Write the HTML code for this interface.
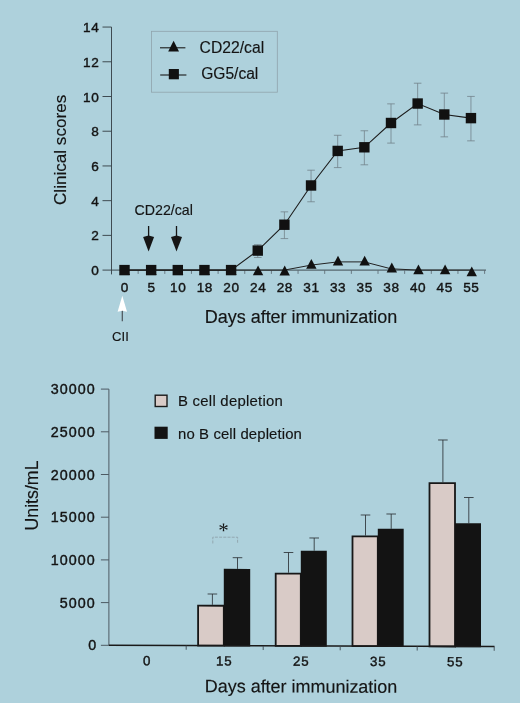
<!DOCTYPE html>
<html><head><meta charset="utf-8"><title>Figure</title>
<style>html,body{margin:0;padding:0;background:#aed1dc;}body{width:520px;height:703px;overflow:hidden;}svg{display:block;will-change:transform;filter:blur(0.3px);}text{font-family:"Liberation Sans",Arial,sans-serif;fill:#141414;stroke:#141414;stroke-width:0.15px;}text.tk{stroke-width:0.4px;}</style>
</head><body>
<svg width="520" height="703" viewBox="0 0 520 703">
<rect x="0" y="0" width="520" height="703" fill="#aed1dc"/>
<g stroke="#39434a" stroke-width="0.95" fill="none">
<line x1="111.50" y1="27.06" x2="111.50" y2="274.40"/>
<line x1="102.50" y1="270.10" x2="486.00" y2="270.10"/>
<line x1="102.50" y1="235.38" x2="111.50" y2="235.38"/>
<line x1="102.50" y1="200.66" x2="111.50" y2="200.66"/>
<line x1="102.50" y1="165.94" x2="111.50" y2="165.94"/>
<line x1="102.50" y1="131.22" x2="111.50" y2="131.22"/>
<line x1="102.50" y1="96.50" x2="111.50" y2="96.50"/>
<line x1="102.50" y1="61.78" x2="111.50" y2="61.78"/>
<line x1="102.50" y1="27.06" x2="111.50" y2="27.06"/>
<line x1="138.15" y1="270.10" x2="138.15" y2="273.90" stroke="#5d6a72" stroke-width="0.85"/>
<line x1="164.80" y1="270.10" x2="164.80" y2="273.90" stroke="#5d6a72" stroke-width="0.85"/>
<line x1="191.45" y1="270.10" x2="191.45" y2="273.90" stroke="#5d6a72" stroke-width="0.85"/>
<line x1="218.10" y1="270.10" x2="218.10" y2="273.90" stroke="#5d6a72" stroke-width="0.85"/>
<line x1="244.75" y1="270.10" x2="244.75" y2="273.90" stroke="#5d6a72" stroke-width="0.85"/>
<line x1="271.40" y1="270.10" x2="271.40" y2="273.90" stroke="#5d6a72" stroke-width="0.85"/>
<line x1="298.05" y1="270.10" x2="298.05" y2="273.90" stroke="#5d6a72" stroke-width="0.85"/>
<line x1="324.70" y1="270.10" x2="324.70" y2="273.90" stroke="#5d6a72" stroke-width="0.85"/>
<line x1="351.35" y1="270.10" x2="351.35" y2="273.90" stroke="#5d6a72" stroke-width="0.85"/>
<line x1="378.00" y1="270.10" x2="378.00" y2="273.90" stroke="#5d6a72" stroke-width="0.85"/>
<line x1="404.65" y1="270.10" x2="404.65" y2="273.90" stroke="#5d6a72" stroke-width="0.85"/>
<line x1="431.30" y1="270.10" x2="431.30" y2="273.90" stroke="#5d6a72" stroke-width="0.85"/>
<line x1="457.95" y1="270.10" x2="457.95" y2="273.90" stroke="#5d6a72" stroke-width="0.85"/>
<line x1="484.60" y1="270.10" x2="484.60" y2="273.90" stroke="#5d6a72" stroke-width="0.85"/>
</g>
<text class="tk" x="99.4" y="275.10" font-size="13.6" text-anchor="end" letter-spacing="0.6">0</text>
<text class="tk" x="99.4" y="240.38" font-size="13.6" text-anchor="end" letter-spacing="0.6">2</text>
<text class="tk" x="99.4" y="205.66" font-size="13.6" text-anchor="end" letter-spacing="0.6">4</text>
<text class="tk" x="99.4" y="170.94" font-size="13.6" text-anchor="end" letter-spacing="0.6">6</text>
<text class="tk" x="99.4" y="136.22" font-size="13.6" text-anchor="end" letter-spacing="0.6">8</text>
<text class="tk" x="99.4" y="101.50" font-size="13.6" text-anchor="end" letter-spacing="0.6">10</text>
<text class="tk" x="99.4" y="66.78" font-size="13.6" text-anchor="end" letter-spacing="0.6">12</text>
<text class="tk" x="99.4" y="32.06" font-size="13.6" text-anchor="end" letter-spacing="0.6">14</text>
<text class="tk" x="124.90" y="291.8" font-size="13.6" text-anchor="middle" letter-spacing="0.6">0</text>
<text class="tk" x="151.55" y="291.8" font-size="13.6" text-anchor="middle" letter-spacing="0.6">5</text>
<text class="tk" x="178.20" y="291.8" font-size="13.6" text-anchor="middle" letter-spacing="0.6">10</text>
<text class="tk" x="204.85" y="291.8" font-size="13.6" text-anchor="middle" letter-spacing="0.6">18</text>
<text class="tk" x="231.50" y="291.8" font-size="13.6" text-anchor="middle" letter-spacing="0.6">20</text>
<text class="tk" x="258.15" y="291.8" font-size="13.6" text-anchor="middle" letter-spacing="0.6">24</text>
<text class="tk" x="284.80" y="291.8" font-size="13.6" text-anchor="middle" letter-spacing="0.6">28</text>
<text class="tk" x="311.45" y="291.8" font-size="13.6" text-anchor="middle" letter-spacing="0.6">31</text>
<text class="tk" x="338.10" y="291.8" font-size="13.6" text-anchor="middle" letter-spacing="0.6">33</text>
<text class="tk" x="364.75" y="291.8" font-size="13.6" text-anchor="middle" letter-spacing="0.6">35</text>
<text class="tk" x="391.40" y="291.8" font-size="13.6" text-anchor="middle" letter-spacing="0.6">38</text>
<text class="tk" x="418.05" y="291.8" font-size="13.6" text-anchor="middle" letter-spacing="0.6">40</text>
<text class="tk" x="444.70" y="291.8" font-size="13.6" text-anchor="middle" letter-spacing="0.6">45</text>
<text class="tk" x="471.35" y="291.8" font-size="13.6" text-anchor="middle" letter-spacing="0.6">55</text>
<text x="204.8" y="323.1" font-size="18" textLength="192.5">Days after immunization</text>
<text transform="translate(65.8,205) rotate(-90)" font-size="17.1">Clinical scores</text>
<rect x="151.4" y="31.3" width="125.9" height="60.9" fill="none" stroke="#8fa3ac" stroke-width="0.8"/>
<line x1="160" y1="47.8" x2="185.4" y2="47.8" stroke="#1a1a1a" stroke-width="1.1"/>
<polygon points="173.6,40.8 179.0,51.5 168.2,51.5" fill="#111"/>
<line x1="160.2" y1="75.0" x2="186.4" y2="75.0" stroke="#1a1a1a" stroke-width="1.1"/>
<rect x="168.8" y="69.0" width="10.1" height="10.3" fill="#111"/>
<text x="199.6" y="52.9" font-size="15.7" textLength="64.6">CD22/cal</text>
<text x="201.2" y="79.3" font-size="15.6" textLength="57.1">GG5/cal</text>
<g stroke="#6f7d85" stroke-width="0.75" fill="none">
<line x1="257.75" y1="244.66" x2="257.75" y2="257.51"/>
<line x1="253.95" y1="244.66" x2="261.55" y2="244.66"/>
<line x1="253.95" y1="257.51" x2="261.55" y2="257.51"/>
<line x1="284.40" y1="211.85" x2="284.40" y2="238.58"/>
<line x1="280.60" y1="211.85" x2="288.20" y2="211.85"/>
<line x1="280.60" y1="238.58" x2="288.20" y2="238.58"/>
<line x1="311.05" y1="170.19" x2="311.05" y2="201.78"/>
<line x1="307.25" y1="170.19" x2="314.85" y2="170.19"/>
<line x1="307.25" y1="201.78" x2="314.85" y2="201.78"/>
<line x1="337.70" y1="135.29" x2="337.70" y2="167.58"/>
<line x1="333.90" y1="135.29" x2="341.50" y2="135.29"/>
<line x1="333.90" y1="167.58" x2="341.50" y2="167.58"/>
<line x1="364.35" y1="130.78" x2="364.35" y2="164.80"/>
<line x1="360.55" y1="130.78" x2="368.15" y2="130.78"/>
<line x1="360.55" y1="164.80" x2="368.15" y2="164.80"/>
<line x1="391.00" y1="103.87" x2="391.00" y2="143.10"/>
<line x1="387.20" y1="103.87" x2="394.80" y2="103.87"/>
<line x1="387.20" y1="143.10" x2="394.80" y2="143.10"/>
<line x1="417.65" y1="83.21" x2="417.65" y2="124.88"/>
<line x1="413.85" y1="83.21" x2="421.45" y2="83.21"/>
<line x1="413.85" y1="124.88" x2="421.45" y2="124.88"/>
<line x1="444.30" y1="93.11" x2="444.30" y2="136.85"/>
<line x1="440.50" y1="93.11" x2="448.10" y2="93.11"/>
<line x1="440.50" y1="136.85" x2="448.10" y2="136.85"/>
<line x1="470.95" y1="96.41" x2="470.95" y2="140.85"/>
<line x1="467.15" y1="96.41" x2="474.75" y2="96.41"/>
<line x1="467.15" y1="140.85" x2="474.75" y2="140.85"/>
</g>
<polyline points="124.50,270.10 151.15,270.10 177.80,270.10 204.45,270.10 231.10,270.10 257.75,270.10 284.40,270.10 311.05,265.10 337.70,261.90 364.35,261.90 391.00,268.80 417.65,270.10 444.30,270.10 470.95,270.10" fill="none" stroke="#222" stroke-width="1"/>
<polyline points="124.50,270.10 151.15,270.10 177.80,270.10 204.45,270.10 231.10,270.10 257.75,250.58 284.40,224.72 311.05,185.48 337.70,150.94 364.35,147.29 391.00,122.99 417.65,103.54 444.30,114.48 470.95,118.13" fill="none" stroke="#1c1c1c" stroke-width="1.1"/>
<polygon points="124.80,265.30 130.00,275.10 119.60,275.10" fill="#111"/>
<polygon points="151.45,265.30 156.65,275.10 146.25,275.10" fill="#111"/>
<polygon points="178.10,265.30 183.30,275.10 172.90,275.10" fill="#111"/>
<polygon points="204.75,265.30 209.95,275.10 199.55,275.10" fill="#111"/>
<polygon points="231.40,265.30 236.60,275.10 226.20,275.10" fill="#111"/>
<polygon points="258.05,265.50 263.25,275.30 252.85,275.30" fill="#111"/>
<polygon points="284.70,265.60 289.90,275.40 279.50,275.40" fill="#111"/>
<polygon points="311.35,258.90 316.55,268.70 306.15,268.70" fill="#111"/>
<polygon points="338.00,255.70 343.20,265.50 332.80,265.50" fill="#111"/>
<polygon points="364.65,255.70 369.85,265.50 359.45,265.50" fill="#111"/>
<polygon points="391.80,262.60 397.00,272.40 386.60,272.40" fill="#111"/>
<polygon points="418.45,264.50 423.65,274.30 413.25,274.30" fill="#111"/>
<polygon points="445.10,264.50 450.30,274.30 439.90,274.30" fill="#111"/>
<polygon points="471.75,266.50 476.95,276.30 466.55,276.30" fill="#111"/>
<rect x="119.30" y="264.90" width="10.4" height="10.4" fill="#111"/>
<rect x="145.95" y="264.90" width="10.4" height="10.4" fill="#111"/>
<rect x="172.60" y="264.90" width="10.4" height="10.4" fill="#111"/>
<rect x="199.25" y="264.90" width="10.4" height="10.4" fill="#111"/>
<rect x="225.90" y="264.90" width="10.4" height="10.4" fill="#111"/>
<rect x="252.55" y="245.38" width="10.4" height="10.4" fill="#111"/>
<rect x="279.20" y="219.52" width="10.4" height="10.4" fill="#111"/>
<rect x="305.85" y="180.28" width="10.4" height="10.4" fill="#111"/>
<rect x="332.50" y="145.74" width="10.4" height="10.4" fill="#111"/>
<rect x="359.15" y="142.09" width="10.4" height="10.4" fill="#111"/>
<rect x="385.80" y="117.79" width="10.4" height="10.4" fill="#111"/>
<rect x="412.45" y="98.34" width="10.4" height="10.4" fill="#111"/>
<rect x="439.10" y="109.28" width="10.4" height="10.4" fill="#111"/>
<rect x="465.75" y="112.93" width="10.4" height="10.4" fill="#111"/>
<text x="134.6" y="215.2" font-size="14.2" textLength="58.2">CD22/cal</text>
<line x1="148.60" y1="226" x2="148.60" y2="240" stroke="#151515" stroke-width="1.3"/>
<polygon points="143.10,237 148.60,235.4 154.10,237 148.60,251.4" fill="#151515"/>
<line x1="176.50" y1="226" x2="176.50" y2="240" stroke="#151515" stroke-width="1.3"/>
<polygon points="171.00,237 176.50,235.4 182.00,237 176.50,251.4" fill="#151515"/>
<line x1="122.3" y1="310" x2="122.3" y2="321.2" stroke="#4a5258" stroke-width="1.2"/>
<polygon points="122.3,295.8 127,311.7 122.3,310.7 117.6,311.7" fill="#ffffff"/>
<text x="112.1" y="340.7" font-size="13.1">CII</text>
<g stroke="#4d5a63" stroke-width="1" fill="none">
<line x1="108.90" y1="389.10" x2="108.90" y2="645.30"/>
<line x1="100.90" y1="645.30" x2="108.90" y2="645.30"/>
<line x1="100.90" y1="602.60" x2="108.90" y2="602.60"/>
<line x1="100.90" y1="559.90" x2="108.90" y2="559.90"/>
<line x1="100.90" y1="517.20" x2="108.90" y2="517.20"/>
<line x1="100.90" y1="474.50" x2="108.90" y2="474.50"/>
<line x1="100.90" y1="431.80" x2="108.90" y2="431.80"/>
<line x1="100.90" y1="389.10" x2="108.90" y2="389.10"/>
</g>
<text class="tk" x="97.30" y="650.00" font-size="14.3" text-anchor="end" letter-spacing="1.0">0</text>
<text class="tk" x="95.60" y="607.60" font-size="14.3" text-anchor="end" letter-spacing="1.0">5000</text>
<text class="tk" x="95.60" y="564.90" font-size="14.3" text-anchor="end" letter-spacing="1.0">10000</text>
<text class="tk" x="95.60" y="522.20" font-size="14.3" text-anchor="end" letter-spacing="1.0">15000</text>
<text class="tk" x="95.60" y="479.50" font-size="14.3" text-anchor="end" letter-spacing="1.0">20000</text>
<text class="tk" x="95.60" y="436.80" font-size="14.3" text-anchor="end" letter-spacing="1.0">25000</text>
<text class="tk" x="95.60" y="394.10" font-size="14.3" text-anchor="end" letter-spacing="1.0">30000</text>
<text transform="translate(37.9,530.6) rotate(-90)" font-size="17.8">Units/mL</text>
<rect x="155.2" y="395.2" width="11.8" height="11.3" fill="#d9cbc7" stroke="#1a1a1a" stroke-width="1.4"/>
<rect x="154.5" y="426.7" width="13.2" height="12.2" fill="#131313"/>
<text x="178" y="406" font-size="14.9" textLength="104.9">B cell depletion</text>
<text x="178" y="438.7" font-size="14.9" textLength="123.9">no B cell depletion</text>
<g transform="translate(108.90,0) skewY(0.195) translate(-108.90,0)">
<g stroke="#2c3236" stroke-width="0.85" fill="none">
<line x1="212.40" y1="593.65" x2="212.40" y2="604.45"/>
<line x1="207.60" y1="593.65" x2="217.20" y2="593.65"/>
<line x1="237.50" y1="557.26" x2="237.50" y2="568.46"/>
<line x1="232.70" y1="557.26" x2="242.30" y2="557.26"/>
<line x1="288.50" y1="551.89" x2="288.50" y2="572.09"/>
<line x1="283.70" y1="551.89" x2="293.30" y2="551.89"/>
<line x1="314.20" y1="537.30" x2="314.20" y2="550.00"/>
<line x1="309.40" y1="537.30" x2="319.00" y2="537.30"/>
<line x1="365.50" y1="514.13" x2="365.50" y2="534.63"/>
<line x1="360.70" y1="514.13" x2="370.30" y2="514.13"/>
<line x1="391.20" y1="513.04" x2="391.20" y2="527.84"/>
<line x1="386.40" y1="513.04" x2="396.00" y2="513.04"/>
<line x1="442.90" y1="438.86" x2="442.90" y2="481.06"/>
<line x1="438.10" y1="438.86" x2="447.70" y2="438.86"/>
<line x1="468.80" y1="496.28" x2="468.80" y2="521.98"/>
<line x1="464.00" y1="496.28" x2="473.60" y2="496.28"/>
</g>
<rect x="198.10" y="605.35" width="25.70" height="39.95" fill="#d9cbc7" stroke="#171717" stroke-width="1.8"/>
<rect x="223.80" y="568.46" width="26.40" height="77.54" fill="#131313"/>
<rect x="275.70" y="572.99" width="25.10" height="72.31" fill="#d9cbc7" stroke="#171717" stroke-width="1.8"/>
<rect x="300.80" y="550.00" width="26.00" height="96.00" fill="#131313"/>
<rect x="352.50" y="535.53" width="25.30" height="109.77" fill="#d9cbc7" stroke="#171717" stroke-width="1.8"/>
<rect x="377.80" y="527.84" width="25.90" height="118.16" fill="#131313"/>
<rect x="429.50" y="481.97" width="25.50" height="163.33" fill="#d9cbc7" stroke="#171717" stroke-width="1.8"/>
<rect x="455.00" y="521.98" width="26.00" height="124.02" fill="#131313"/>
<line x1="108.90" y1="645.30" x2="494.50" y2="645.30" stroke="#1a1a1a" stroke-width="1.5"/>
<g stroke="#3f4a52" stroke-width="0.9" fill="none">
<line x1="186.20" y1="645.30" x2="186.20" y2="649.50"/>
<line x1="263.20" y1="645.30" x2="263.20" y2="649.50"/>
<line x1="340.20" y1="645.30" x2="340.20" y2="649.50"/>
<line x1="417.20" y1="645.30" x2="417.20" y2="649.50"/>
<line x1="494.20" y1="645.30" x2="494.20" y2="649.50"/>
</g>
<text class="tk" x="147.20" y="665.2" font-size="13.3" text-anchor="middle" letter-spacing="0.9">0</text>
<text class="tk" x="224.20" y="665.2" font-size="13.3" text-anchor="middle" letter-spacing="0.9">15</text>
<text class="tk" x="301.20" y="665.2" font-size="13.3" text-anchor="middle" letter-spacing="0.9">25</text>
<text class="tk" x="378.20" y="665.2" font-size="13.3" text-anchor="middle" letter-spacing="0.9">35</text>
<text class="tk" x="455.20" y="665.2" font-size="13.3" text-anchor="middle" letter-spacing="0.9">55</text>
<text x="204.8" y="691.9" font-size="18" textLength="192.5">Days after immunization</text>
<polyline points="212.8,543.1 212.8,536.8 237.6,536.8 237.6,543.1" fill="none" stroke="#8b9da6" stroke-width="0.8" stroke-dasharray="3 1.2"/>
<text x="223.4" y="536.9" font-size="21" text-anchor="middle" style="font-family:'Liberation Serif',serif;stroke:none">*</text>
</g>
</svg>
</body></html>
